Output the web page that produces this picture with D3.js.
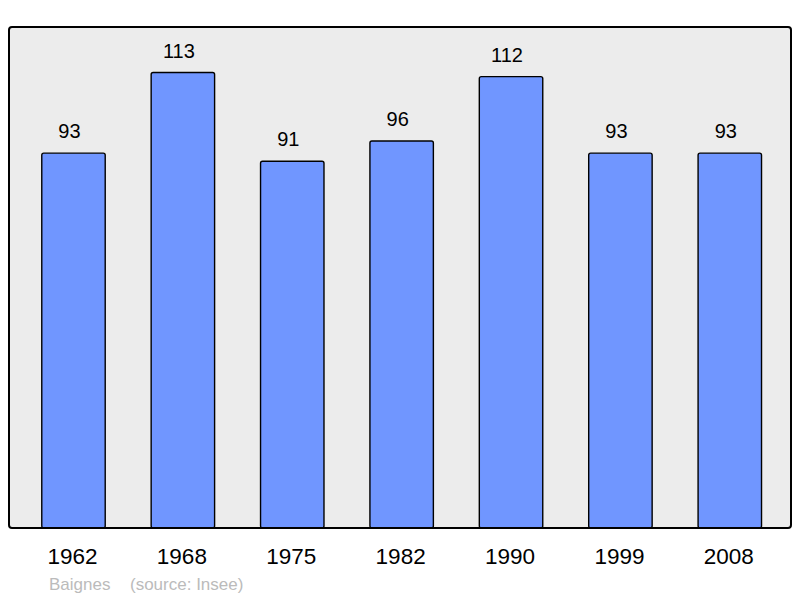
<!DOCTYPE html>
<html>
<head>
<meta charset="utf-8">
<script src="https://cdn.jsdelivr.net/npm/d3@7"></script>
<style>
  body { margin: 0; background: #fff; }
  text { font-family: "Liberation Sans", Arial, sans-serif; }
</style>
</head>
<body>
<svg class="chart"></svg>
<script>
const years = ["1962", "1968", "1975", "1982", "1990", "1999", "2008"];
const population = [93, 113, 91, 96, 112, 93, 93];
const commune = "Baignes";
const source = "(source: Insee)";

const width = 800;
const height = 598;
const frame = {left: 9, top: 27, right: 791, bottom: 528};

const svg = d3.select(".chart")
    .attr("width", width)
    .attr("height", height);

const data = years.map((y, i) => ({year: y, value: population[i]}));

const x = d3.scaleBand()
    .domain(years)
    .range([18.8, 784.5])
    .paddingInner(0.42)
    .paddingOuter(0.21);

const y = d3.scaleLinear()
    .domain([0, d3.max(population) * 1.1])
    .range([frame.bottom, frame.top]);

// plot background
svg.append("rect")
    .attr("x", frame.left)
    .attr("y", frame.top)
    .attr("width", frame.right - frame.left)
    .attr("height", frame.bottom - frame.top)
    .attr("rx", 3)
    .attr("fill", "#ececec");

const bar = svg.selectAll(".bar")
    .data(data)
  .enter().append("g")
    .attr("class", "bar")
    .attr("transform", (d) => `translate(${ x(d.year) },0)`);

bar.append("rect")
    .attr("y", (d) => y(d.value))
    .attr("height", (d) => y(0) - y(d.value))
    .attr("width", x.bandwidth())
    .attr("rx", 2)
    .attr("fill", "#7096ff")
    .attr("stroke", "#000")
    .attr("stroke-width", 1.4);

// value labels sit slightly left of the bar centre in the original
bar.append("text")
    .attr("x", x.bandwidth() / 2 - 4)
    .attr("y", (d) => y(d.value) - 15)
    .attr("text-anchor", "middle")
    .attr("font-size", 20)
    .attr("fill", "#000")
    .text((d) => d.value);

// frame border drawn on top
svg.append("rect")
    .attr("x", frame.left)
    .attr("y", frame.top)
    .attr("width", frame.right - frame.left)
    .attr("height", frame.bottom - frame.top)
    .attr("rx", 3)
    .attr("fill", "none")
    .attr("stroke", "#000")
    .attr("stroke-width", 2);

// year labels
svg.selectAll(".year")
    .data(years)
  .enter().append("text")
    .attr("class", "year")
    .attr("x", (d) => x(d) + x.bandwidth() / 2 - 1)
    .attr("y", 564)
    .attr("text-anchor", "middle")
    .attr("font-size", 22.5)
    .attr("fill", "#000")
    .text((d) => d);

svg.append("text")
    .attr("x", 49)
    .attr("y", 590)
    .attr("font-size", 17)
    .attr("fill", "#bbbbbb")
    .text(commune);

svg.append("text")
    .attr("x", 130)
    .attr("y", 590)
    .attr("font-size", 17)
    .attr("fill", "#bbbbbb")
    .text(source);
</script>
</body>
</html>
